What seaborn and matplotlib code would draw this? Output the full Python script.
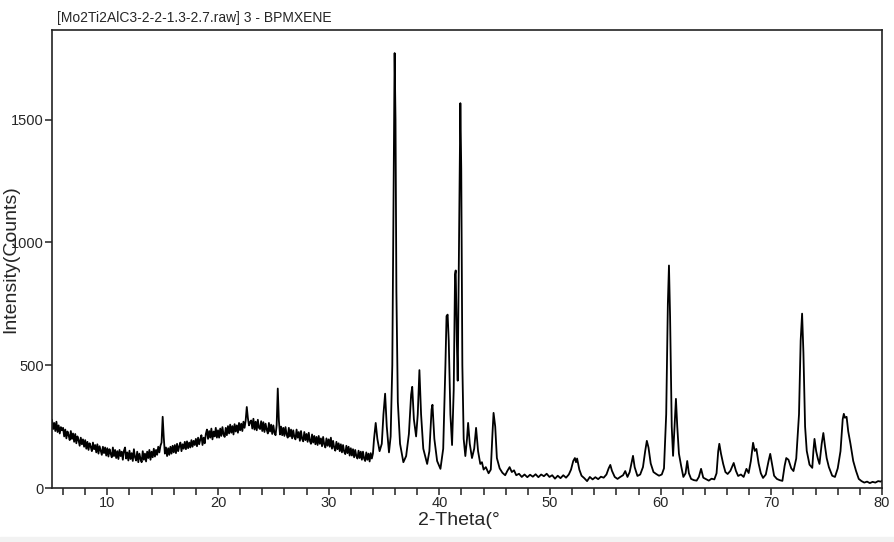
import numpy as np
import pandas as pd
import matplotlib
matplotlib.use("Agg")
import matplotlib.pyplot as plt
import seaborn as sns

# XRD pattern
# low angle region, fixed 0.1 deg step from 5.0 deg (one line = 1 deg)
low_start = 5.0
low_step = 0.1
low_counts = [
    278, 240, 265, 232, 270, 228, 255, 222, 248, 235,   # 5
    245, 210, 238, 202, 230, 215, 195, 232, 200, 222,   # 6
    188, 220, 182, 210, 195, 172, 205, 178, 198, 168,   # 7
    195, 160, 188, 155, 182, 168, 150, 185, 158, 175,   # 8
    145, 178, 140, 170, 152, 135, 168, 142, 165, 132,   # 9
    162, 128, 158, 140, 125, 165, 130, 155, 122, 150,   # 10
    118, 155, 130, 148, 115, 152, 165, 120, 145, 112,   # 11
    152, 118, 142, 110, 158, 125, 112, 148, 105, 140,   # 12
    118, 105, 150, 115, 140, 108, 148, 122, 155, 115,   # 13
    148, 125, 160, 128, 155, 135, 168, 145, 172, 185,   # 14
    290, 205, 140, 165, 130, 162, 135, 168, 140, 172,   # 15
    145, 175, 142, 180, 150, 170, 185, 150, 178, 160,   # 16
    188, 158, 190, 162, 185, 165, 195, 168, 192, 175,   # 17
    200, 170, 205, 178, 198, 215, 175, 205, 182, 220,   # 18
    238, 200, 232, 205, 242, 198, 230, 210, 245, 205,   # 19
    235, 205, 242, 212, 248, 218, 208, 245, 215, 252,   # 20
    222, 258, 225, 252, 218, 260, 230, 255, 225, 265,   # 21
    235, 262, 232, 270, 245, 275, 330, 285, 255, 268,   # 22
    275, 242, 282, 238, 270, 235, 278, 245, 240, 272,   # 23
    232, 268, 228, 262, 238, 222, 265, 230, 258, 220,   # 24
    255, 225, 215, 255, 405, 275, 218, 250, 215, 245,   # 25
    212, 248, 218, 205, 245, 210, 238, 202, 235, 208,   # 26
    198, 238, 205, 228, 192, 232, 200, 190, 228, 195,   # 27
    220, 188, 225, 192, 180, 218, 185, 212, 178, 208,   # 28
    175, 212, 180, 202, 170, 208, 178, 165, 202, 172,   # 29
    198, 168, 205, 160, 192, 165, 152, 188, 158, 182,   # 30
    150, 178, 145, 175, 148, 138, 172, 142, 168, 132,   # 31
    162, 132, 158, 125, 155, 130, 120, 152, 122, 148,   # 32
    115, 148, 120, 110, 145, 115, 140, 108, 142, 120,   # 33
]

# main reflections 34 - 46 deg
mid_theta = [34.0, 34.1, 34.25, 34.4, 34.6, 34.8, 34.95, 35.1, 35.25, 35.45,
             35.6, 35.75, 35.88, 35.96, 36.04, 36.12, 36.25, 36.45, 36.75, 37.0,
             37.25, 37.45, 37.55, 37.7, 37.9, 38.05, 38.2, 38.35, 38.55, 38.9,
             39.1, 39.3, 39.38, 39.55, 39.8, 40.1, 40.35, 40.55, 40.65, 40.75,
             40.85, 41.0, 41.15, 41.3, 41.42, 41.48, 41.58, 41.66, 41.78, 41.9,
             41.98, 42.08, 42.2, 42.35, 42.5, 42.6, 42.75, 42.95, 43.15, 43.32,
             43.5, 43.7, 43.85, 44.0, 44.2, 44.45, 44.65, 44.8, 44.9, 45.05,
             45.2, 45.45, 45.7]
mid_counts = [140, 200, 265, 200, 150, 180, 300, 384, 250, 145,
              210, 500, 1300, 1771, 1500, 800, 350, 180, 105, 130,
              220, 380, 412, 280, 210, 300, 480, 300, 160, 98,
              150, 320, 339, 200, 110, 78, 160, 500, 700, 706,
              600, 300, 175, 400, 870, 886, 600, 437, 1000, 1567,
              1300, 500, 200, 130, 200, 265, 180, 122, 160, 245,
              150, 98, 105, 75, 85, 60, 75, 220, 306, 250,
              122, 80, 62]

# high angle region 46 - 80 deg
high_theta = [45.95, 46.15, 46.35, 46.55, 46.75, 46.95, 47.2, 47.45, 47.7, 47.95,
              48.2, 48.45, 48.7, 48.95, 49.2, 49.45, 49.7, 49.95, 50.2, 50.45,
              50.7, 50.95, 51.2, 51.45, 51.7, 51.9, 52.1, 52.25, 52.35, 52.45,
              52.65, 52.85, 53.1, 53.35, 53.6, 53.85, 54.1, 54.35, 54.6, 54.85,
              55.1, 55.3, 55.45, 55.6, 55.85, 56.1, 56.35, 56.6, 56.8, 57.0,
              57.2, 57.4, 57.5, 57.65, 57.9, 58.15, 58.4, 58.6, 58.75, 58.9,
              59.1, 59.35, 59.6, 59.85, 60.1, 60.3, 60.5, 60.65, 60.75, 60.85,
              61.0, 61.12, 61.25, 61.38, 61.5, 61.65, 61.85, 62.05, 62.25, 62.4,
              62.55, 62.75, 63.0, 63.25, 63.45, 63.65, 63.85, 64.1, 64.35, 64.6,
              64.85, 65.05, 65.2, 65.3, 65.45, 65.65, 65.85, 66.05, 66.3, 66.6,
              66.8, 67.0, 67.25, 67.5, 67.75, 67.95, 68.15, 68.35, 68.5, 68.65,
              68.85, 69.05, 69.25, 69.5, 69.75, 69.9, 70.05, 70.25, 70.5, 70.75,
              71.0, 71.2, 71.35, 71.55, 71.8, 72.0, 72.25, 72.5, 72.65, 72.78,
              72.9, 73.05, 73.2, 73.45, 73.7, 73.8, 73.9, 74.05, 74.2, 74.35,
              74.55, 74.7, 74.85, 75.0, 75.2, 75.5, 75.75, 76.0, 76.25, 76.45,
              76.55, 76.65, 76.8, 76.95, 77.15, 77.4, 77.65, 77.9, 78.15, 78.4,
              78.65, 78.9, 79.15, 79.4, 79.65, 79.9, 80.0]
high_counts = [52, 70, 85, 65, 72, 52, 58, 45, 55, 44,
               54, 46, 56, 44, 55, 48, 58, 45, 52, 38,
               50, 40, 52, 42, 55, 75, 110, 122, 105, 120,
               75, 50, 40, 28, 45, 35, 44, 36, 46, 42,
               55, 80, 94, 70, 45, 37, 45, 52, 69, 45,
               65, 110, 131, 85, 49, 55, 85, 150, 192, 165,
               100, 65, 57, 50, 55, 80, 300, 750, 906, 700,
               250, 131, 250, 363, 250, 140, 90, 45, 60, 110,
               60, 37, 32, 30, 45, 78, 42, 36, 30, 38,
               35, 60, 150, 180, 140, 98, 65, 57, 70, 102,
               70, 49, 55, 45, 78, 61, 110, 184, 151, 159,
               100, 60, 41, 55, 110, 139, 100, 50, 37, 32,
               29, 90, 122, 115, 80, 69, 120, 300, 600, 710,
               550, 250, 151, 95, 82, 150, 200, 150, 120, 98,
               180, 224, 170, 122, 85, 50, 45, 80, 150, 280,
               302, 286, 290, 230, 180, 110, 70, 37, 28, 22,
               26, 20, 25, 22, 28, 26, 30]

low_theta = low_start + low_step * np.arange(len(low_counts))
df = pd.DataFrame({
    "theta": np.concatenate([low_theta, mid_theta, high_theta]),
    "counts": np.concatenate([low_counts, mid_counts, high_counts]),
})

sns.set_style("ticks")
plt.rcParams["font.family"] = ["Liberation Sans", "DejaVu Sans"]

fig = plt.figure(figsize=(8.94, 5.42), dpi=100)
ax = fig.add_axes([52 / 894, 54 / 542, 830 / 894, 458 / 542])

sns.lineplot(data=df, x="theta", y="counts", color="black", linewidth=1.3,
             estimator=None, sort=False, ax=ax)

ax.set_xlim(5, 80)
ax.set_ylim(0, 1865)
xt = np.arange(6, 81, 2)
ax.set_xticks(xt)
ax.set_xticklabels([str(v) if v % 10 == 0 else "" for v in xt])
ax.set_yticks([0, 500, 1000, 1500])
ax.tick_params(axis="both", direction="out", length=5, width=1.1,
               labelsize=10.5, color="#222222")
ax.tick_params(axis="x", pad=1)
ax.tick_params(axis="y", pad=1)
for s in ax.spines.values():
    s.set_linewidth(1.2)
    s.set_color("#222222")

ax.set_xlabel("2-Theta(°", fontsize=14)
ax.set_ylabel("Intensity(Counts)", fontsize=14)
ax.xaxis.set_label_coords(0.49, -0.052)
ax.yaxis.set_label_coords(-0.040, 0.5)

fig.text(57 / 894, 1 - 22 / 542, "[Mo2Ti2AlC3-2-2-1.3-2.7.raw] 3 - BPMXENE",
         fontsize=10, va="baseline", ha="left")

# light strip at the bottom of the picture
fig.patches.append(plt.Rectangle((0, 0), 1, 5 / 542, transform=fig.transFigure,
                                 color="#f2f2f2", zorder=-1))

fig.savefig("out.png", dpi=100)
